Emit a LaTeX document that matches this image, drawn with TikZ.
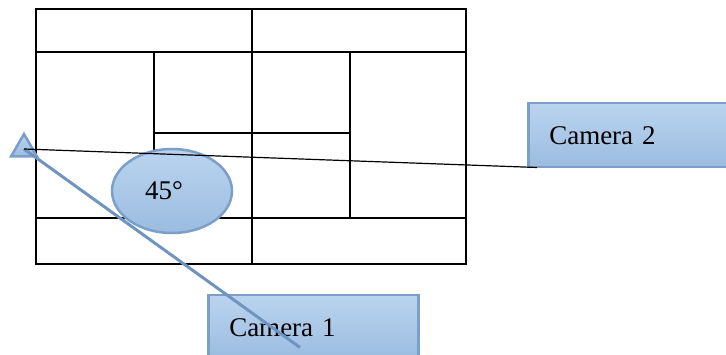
\documentclass[tikz,border=0pt]{standalone}
\usepackage{fontspec}
\setmainfont{Liberation Serif}
\usetikzlibrary{shapes.geometric}
\definecolor{camtop}{HTML}{BAD4EF}
\definecolor{cambot}{HTML}{9BBCE0}
\definecolor{camedge}{HTML}{7B9FC9}
\definecolor{camray}{HTML}{6F94C0}

\begin{document}
\begin{tikzpicture}[x=1pt,y=-1pt,
    wall/.style={line width=1.5pt},
    blob/.style={draw=camedge, line width=2.5pt, top color=camtop, bottom color=cambot},
    camera/.style={blob, rectangle, anchor=north west, text width=#1, inner xsep=21pt,
        minimum height=64pt, align=left, font=\fontsize{27}{32}\selectfont}]
    \useasboundingbox (0,0) rectangle (726,355);

    % floor plan
    \draw[wall] (36,9) rectangle (466,264);
    \foreach \y in {52,218}
        \draw[wall] (36,\y) -- (466,\y);
    \draw[wall] (252,9) -- (252,264);
    \draw[wall] (154,52) -- (154,218);
    \draw[wall] (350,52) -- (350,218);
    \draw[wall] (154,133) -- (350,133);

    \node[camera=168pt] (cam1) at (207,294) {Camera 1};
    \node[camera=198pt] (cam2) at (527,102) {Camera 2};
    \node[blob, regular polygon, regular polygon sides=3, minimum size=30pt, inner sep=0pt] (cam) at (24,149) {};

    \draw[camray, line width=3pt] (cam.center) -- ([xshift=93pt,yshift=13pt]cam1.south west);
    \node[blob, ellipse, minimum width=120pt, minimum height=84pt, inner sep=0pt,
        font=\fontsize{27}{32}\selectfont] (angle) at (172,191) {45°\kern16pt};
    \draw[line width=1.2pt] (cam.center) -- ([xshift=10pt,yshift=1pt]cam2.south west);
\end{tikzpicture}
\end{document}
